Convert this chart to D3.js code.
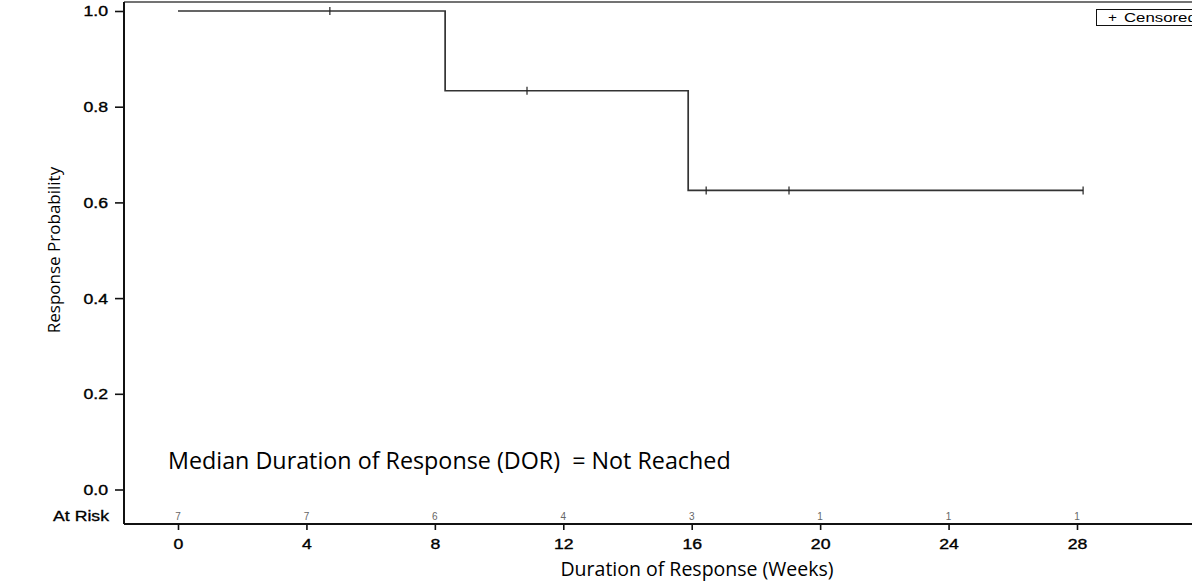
<!DOCTYPE html>
<html>
<head>
<meta charset="utf-8">
<script src="https://cdn.jsdelivr.net/npm/d3@7"></script>
<style>
  html, body { margin: 0; padding: 0; background: #fff; }
  svg { display: block; }
</style>
</head>
<body>
<svg id="chart" width="1192" height="581"></svg>
<script>
// ---- Data ----
const stepTimes = [0, 8.32, 15.89, 28.19];
const stepSurvival = [1.0, 0.8333, 0.625, 0.625];
const censorTimes = [4.73, 10.87, 16.45, 19.03, 28.19];
const censorSurvival = [1.0, 0.8333, 0.625, 0.625, 0.625];
const xTicks = [0, 4, 8, 12, 16, 20, 24, 28];
const atRisk = [7, 7, 6, 4, 3, 1, 1, 1];
const yTicks = [0.0, 0.2, 0.4, 0.6, 0.8, 1.0];
const yTickLabels = ["0.0", "0.2", "0.4", "0.6", "0.8", "1.0"];

const svg = d3.select("#chart");
const W = 1192, H = 581;
const frame = { left: 124, top: 2, bottom: 524, right: W };

const x = d3.scaleLinear().domain([0, 28]).range([178, 1077]);
const y = d3.scaleLinear().domain([0, 1]).range([489.5, 11]);

const sasFont = "'Liberation Sans', Arial, sans-serif";
const calFont = "'Open Sans', sans-serif";
const stretch = 1.28;

// Frame
svg.append("line").attr("x1", frame.left).attr("x2", frame.right).attr("y1", frame.top).attr("y2", frame.top)
  .attr("stroke", "#444").attr("stroke-width", 1.5);
svg.append("line").attr("x1", frame.left).attr("x2", frame.left).attr("y1", frame.top).attr("y2", frame.bottom)
  .attr("stroke", "#111").attr("stroke-width", 2);
svg.append("line").attr("x1", frame.left).attr("x2", frame.right).attr("y1", frame.bottom).attr("y2", frame.bottom)
  .attr("stroke", "#111").attr("stroke-width", 2);

// Y axis
const yAxis = d3.axisLeft(y).tickValues(yTicks).tickSize(9).tickSizeOuter(0).tickFormat(() => "");
const gy = svg.append("g").attr("transform", `translate(${frame.left},0)`).call(yAxis);
gy.select(".domain").remove();
gy.selectAll(".tick line").attr("stroke", "#111").attr("stroke-width", 1.6);
gy.selectAll(".tick").each(function(d, i) {
  d3.select(this).append("text")
    .attr("transform", `translate(-16,0) scale(${stretch},1)`)
    .attr("dy", "0.36em")
    .attr("text-anchor", "end")
    .attr("fill", "#000").attr("stroke", "#000").attr("stroke-width", 0.35)
    .style("font-family", sasFont)
    .style("font-size", "13.8px")
    .text(yTickLabels[i]);
});

// X axis
const xAxis = d3.axisBottom(x).tickValues(xTicks).tickSize(6).tickSizeOuter(0).tickFormat(() => "");
const gx = svg.append("g").attr("transform", `translate(0,${frame.bottom})`).call(xAxis);
gx.select(".domain").remove();
gx.selectAll(".tick line").attr("stroke", "#111").attr("stroke-width", 1.6);
gx.selectAll(".tick").each(function(d) {
  d3.select(this).append("text")
    .attr("transform", `translate(0,25) scale(${stretch},1)`)
    .attr("text-anchor", "middle")
    .attr("fill", "#000").attr("stroke", "#000").attr("stroke-width", 0.35)
    .style("font-family", sasFont)
    .style("font-size", "13.8px")
    .text(d);
});

// At risk row
svg.append("text")
  .attr("transform", `translate(109,521) scale(${stretch},1)`)
  .attr("text-anchor", "end")
  .attr("fill", "#000").attr("stroke", "#000").attr("stroke-width", 0.3)
  .style("font-family", sasFont)
  .style("font-size", "13.8px")
  .text("At Risk");
svg.append("g").selectAll("text").data(xTicks).join("text")
  .attr("x", d => x(d))
  .attr("y", 520)
  .attr("text-anchor", "middle")
  .attr("fill", "#666")
  .style("font-family", sasFont)
  .style("font-size", "10px")
  .text((d, i) => atRisk[i]);

// KM curve
const pts = stepTimes.map((t, i) => [t, stepSurvival[i]]);
const line = d3.line().x(d => x(d[0])).y(d => y(d[1])).curve(d3.curveStepAfter);
svg.append("path").datum(pts).attr("d", line)
  .attr("fill", "none").attr("stroke", "#333").attr("stroke-width", 1.7);

// Censor marks
svg.append("g").selectAll("line").data(censorTimes).join("line")
  .attr("x1", d => x(d)).attr("x2", d => x(d))
  .attr("y1", (d, i) => y(censorSurvival[i]) - 4)
  .attr("y2", (d, i) => y(censorSurvival[i]) + 4)
  .attr("stroke", "#222").attr("stroke-width", 1.2);

// Legend
svg.append("rect").attr("x", 1096.5).attr("y", 9.5).attr("width", 130).attr("height", 16)
  .attr("fill", "#fff").attr("stroke", "#111").attr("stroke-width", 1);
svg.append("text")
  .attr("transform", `translate(1108,22) scale(${stretch},1)`)
  .attr("fill", "#000").style("font-family", sasFont).style("font-size", "12px")
  .text("+");
svg.append("text")
  .attr("transform", `translate(1124,22) scale(1.4,1)`)
  .attr("fill", "#000").style("font-family", sasFont).style("font-size", "12px")
  .text("Censored");

// Annotation
svg.append("text")
  .attr("x", 168).attr("y", 469)
  .attr("fill", "#000")
  .style("font-family", calFont).style("font-size", "23.3px")
  .style("white-space", "pre")
  .text("Median Duration of Response (DOR)  = Not Reached");

// Axis titles
svg.append("text")
  .attr("transform", "translate(60,250) rotate(-90)")
  .attr("text-anchor", "middle")
  .attr("fill", "#000")
  .style("font-family", calFont).style("font-size", "17px")
  .text("Response Probability");
svg.append("text")
  .attr("x", 697).attr("y", 576)
  .attr("text-anchor", "middle")
  .attr("fill", "#000")
  .style("font-family", calFont).style("font-size", "19.5px")
  .text("Duration of Response (Weeks)");
</script>
</body>
</html>
